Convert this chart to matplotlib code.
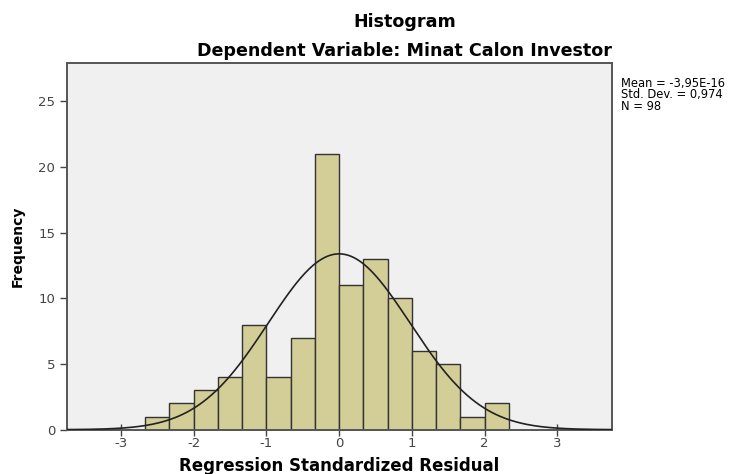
import numpy as np
import matplotlib
matplotlib.use("Agg")
import matplotlib.pyplot as plt

plt.rcParams['font.family'] = ['DejaVu Sans']

# histogram data
bin_edges = [-8/3, -7/3, -2, -5/3, -4/3, -1, -2/3, -1/3, 0, 1/3, 2/3, 1, 4/3, 5/3, 2, 7/3]
counts = [1, 2, 3, 4, 8, 4, 7, 21, 11, 13, 10, 6, 5, 1, 2]
mean = -3.95e-16
std = 0.974
n = 98

x_ticks = [-3, -2, -1, 0, 1, 2, 3]
y_ticks = [0, 5, 10, 15, 20, 25]

fig = plt.figure(figsize=(7.34, 4.74), dpi=100)
ax = fig.add_axes([0.0913, 0.0935, 0.7425, 0.7735])
ax.set_facecolor('#F0F0F0')

lefts = np.array(bin_edges[:-1])
widths = np.diff(bin_edges)
ax.bar(lefts, counts, width=widths, align='edge', color='#D3CE97',
       edgecolor='#333333', linewidth=1.0, zorder=2)

# normal curve scaled to counts
xs = np.linspace(-3.74, 3.75, 400)
bw = widths[0]
ys = n * bw / (std * np.sqrt(2 * np.pi)) * np.exp(-0.5 * ((xs - mean) / std) ** 2)
ax.plot(xs, ys, color='#222222', linewidth=1.2, zorder=3)

ax.set_xlim(-3.74, 3.75)
ax.set_ylim(0, 27.9)
ax.set_xticks(x_ticks)
ax.set_yticks(y_ticks)
ax.set_xticklabels([str(t) for t in x_ticks])
ax.tick_params(axis='both', colors='#444444', labelsize=9.5, length=5, width=1)
ax.tick_params(axis='x', direction='inout', length=8, pad=1)
for sp in ax.spines.values():
    sp.set_color('#555555')
    sp.set_linewidth(1.4)

ax.set_xlabel('Regression Standardized Residual', fontsize=12, fontweight='bold', labelpad=5)
ax.set_ylabel('Frequency', fontsize=10, fontweight='bold', labelpad=10)

fig.text(0.551, 0.954, 'Histogram', ha='center', va='center', fontsize=12.6, fontweight='bold')
fig.text(0.551, 0.893, 'Dependent Variable: Minat Calon Investor', ha='center', va='center',
         fontsize=12.6, fontweight='bold')

fig.text(0.846, 0.762, 'Mean = -3,95E-16\nStd. Dev. = 0,974\nN = 98', ha='left', va='bottom',
         fontsize=8.3, linespacing=0.85)

fig.savefig('out.png', dpi=100)
